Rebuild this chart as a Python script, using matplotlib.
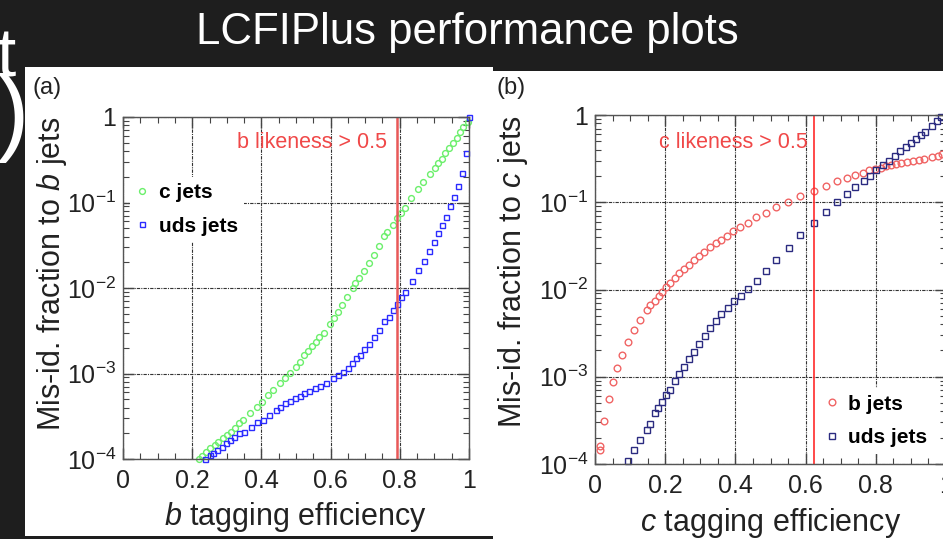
import matplotlib
matplotlib.use('Agg')
import matplotlib.pyplot as plt
from matplotlib.ticker import LogLocator, MultipleLocator, NullFormatter
from matplotlib.patches import Rectangle

plt.rcParams['font.family'] = ['Liberation Sans', 'DejaVu Sans']
plt.rcParams['mathtext.fontset'] = 'custom'
plt.rcParams['mathtext.rm'] = 'Liberation Sans'
plt.rcParams['mathtext.it'] = 'Liberation Sans:italic'
plt.rcParams['mathtext.bf'] = 'Liberation Sans:bold'
plt.rcParams['mathtext.default'] = 'regular'

# ---- (a) b tagging: mis-id fraction vs efficiency ----
a_c_eff = [0.996, 0.984, 0.974, 0.964, 0.953, 0.942, 0.931, 0.921, 0.911, 0.901,
           0.887, 0.868, 0.852, 0.832, 0.815, 0.803, 0.791, 0.779, 0.764, 0.753,
           0.740, 0.724, 0.711, 0.697, 0.683, 0.671, 0.665, 0.647, 0.634, 0.620,
           0.609, 0.598, 0.581, 0.567, 0.558, 0.547, 0.536, 0.524, 0.512, 0.499,
           0.483, 0.468, 0.455, 0.434, 0.420, 0.401, 0.386, 0.367, 0.348, 0.336,
           0.324, 0.312, 0.300, 0.290, 0.276, 0.266, 0.251, 0.240, 0.227, 0.221]
a_c_mis = [0.875, 0.771, 0.662, 0.573, 0.501, 0.431, 0.376, 0.323, 0.287, 0.251,
           0.215, 0.175, 0.143, 0.112, 0.0871, 0.0746, 0.0653, 0.0546, 0.0456, 0.0406,
           0.0310, 0.0243, 0.0194, 0.0158, 0.0130, 0.0114, 0.00991, 0.00778, 0.00632, 0.00519,
           0.00442, 0.00376, 0.00295, 0.00265, 0.00236, 0.00210, 0.00185, 0.00164, 0.00137, 0.00120,
           0.00102, 8.77e-4, 7.67e-4, 6.41e-4, 5.61e-4, 4.69e-4, 4.09e-4, 3.42e-4, 2.86e-4, 2.61e-4,
           2.29e-4, 2.09e-4, 1.91e-4, 1.75e-4, 1.60e-4, 1.46e-4, 1.33e-4, 1.22e-4, 1.08e-4, 1.00e-4]

a_uds_eff = [1.0, 0.990, 0.979, 0.969, 0.957, 0.945, 0.934, 0.922, 0.910, 0.899,
             0.885, 0.869, 0.854, 0.835, 0.816, 0.804, 0.793, 0.779, 0.768, 0.755,
             0.741, 0.725, 0.712, 0.697, 0.685, 0.673, 0.663, 0.649, 0.635, 0.622,
             0.608, 0.586, 0.570, 0.555, 0.539, 0.523, 0.511, 0.496, 0.484, 0.469,
             0.455, 0.441, 0.422, 0.405, 0.386, 0.369, 0.350, 0.336, 0.322, 0.309,
             0.298, 0.285, 0.273, 0.261, 0.250, 0.237]
a_uds_mis = [1.0, 0.376, 0.223, 0.157, 0.116, 0.0902, 0.0671, 0.0541, 0.0440, 0.0345,
             0.0271, 0.0207, 0.0163, 0.0121, 0.00897, 0.00778, 0.00650, 0.00553, 0.00462, 0.00407,
             0.00320, 0.00265, 0.00221, 0.00192, 0.00164, 0.00152, 0.00132, 0.00117, 0.00105, 9.59e-4,
             8.77e-4, 7.82e-4, 7.21e-4, 6.70e-4, 6.30e-4, 5.86e-4, 5.46e-4, 5.13e-4, 4.76e-4, 4.48e-4,
             4.02e-4, 3.74e-4, 3.27e-4, 2.86e-4, 2.69e-4, 2.39e-4, 2.05e-4, 2.00e-4, 1.82e-4, 1.67e-4,
             1.52e-4, 1.39e-4, 1.27e-4, 1.19e-4, 1.11e-4, 1.00e-4]

# ---- (b) c tagging ----
b_b_eff = [0.014, 0.015, 0.026, 0.040, 0.050, 0.064, 0.077, 0.094, 0.111, 0.129,
           0.148, 0.158, 0.170, 0.181, 0.192, 0.202, 0.213, 0.227, 0.240, 0.254,
           0.267, 0.282, 0.297, 0.311, 0.327, 0.344, 0.360, 0.376, 0.393, 0.414,
           0.436, 0.460, 0.486, 0.517, 0.550, 0.585, 0.623, 0.659, 0.690, 0.718,
           0.742, 0.763, 0.782, 0.799, 0.815, 0.829, 0.844, 0.858, 0.873, 0.889,
           0.905, 0.922, 0.938, 0.959, 0.976, 0.989]
b_b_mis = [1.45e-4, 1.6e-4, 3.13e-4, 5.60e-4, 8.61e-4, 1.26e-3, 1.79e-3, 2.47e-3, 3.40e-3, 4.42e-3,
           5.85e-3, 6.67e-3, 7.48e-3, 8.45e-3, 9.48e-3, 0.0106, 0.0120, 0.0136, 0.0154, 0.0173,
           0.0191, 0.0215, 0.0243, 0.0270, 0.0303, 0.0337, 0.0374, 0.0415, 0.0470, 0.0522,
           0.0579, 0.0673, 0.0762, 0.0891, 0.100, 0.117, 0.136, 0.155, 0.173, 0.190,
           0.204, 0.219, 0.232, 0.241, 0.249, 0.258, 0.265, 0.275, 0.284, 0.290,
           0.297, 0.305, 0.313, 0.327, 0.340, 0.357]

b_uds_eff = [0.095, 0.111, 0.129, 0.148, 0.156, 0.170, 0.179, 0.191, 0.202, 0.213,
             0.227, 0.240, 0.254, 0.267, 0.282, 0.297, 0.313, 0.329, 0.344, 0.360,
             0.378, 0.395, 0.415, 0.436, 0.462, 0.488, 0.517, 0.552, 0.585, 0.624,
             0.657, 0.690, 0.718, 0.742, 0.765, 0.784, 0.801, 0.820, 0.837, 0.854,
             0.870, 0.886, 0.901, 0.915, 0.929, 0.941, 0.960, 0.973, 0.986]
b_uds_mis = [1.09e-4, 1.46e-4, 1.87e-4, 2.47e-4, 2.90e-4, 3.84e-4, 4.38e-4, 5.08e-4, 6.11e-4, 7.10e-4,
             8.85e-4, 1.07e-3, 1.29e-3, 1.59e-3, 1.91e-3, 2.37e-3, 2.94e-3, 3.61e-3, 4.38e-3, 5.18e-3,
             6.17e-3, 7.35e-3, 8.45e-3, 0.0101, 0.0124, 0.0164, 0.0217, 0.0300, 0.0419, 0.0575,
             0.0782, 0.100, 0.124, 0.149, 0.175, 0.202, 0.232, 0.265, 0.294, 0.340,
             0.387, 0.431, 0.482, 0.531, 0.596, 0.644, 0.748, 0.861, 0.957]

xticks = [0, 0.2, 0.4, 0.6, 0.8, 1]
xticklabels = ['0', '0.2', '0.4', '0.6', '0.8', '1']
yticks = [1e-4, 1e-3, 1e-2, 1e-1, 1]
yticklabels = ['10$^{-4}$', '10$^{-3}$', '10$^{-2}$', '10$^{-1}$', '1']

W, H = 943, 539
fig = plt.figure(figsize=(W / 100, H / 100), dpi=100, facecolor='#1e1e1e')


def box(x0, y0, x1, y1):
    # pixel box (top-left origin) -> figure fraction rect
    return [x0 / W, 1 - y1 / H, (x1 - x0) / W, (y1 - y0) / H]


# white slide panels
for r in [box(25, 67, 493, 536), box(493, 71, 950, 545)]:
    fig.add_artist(Rectangle((r[0], r[1]), r[2], r[3], transform=fig.transFigure,
                             facecolor='white', edgecolor='none', zorder=-1))

fig.text(467 / W, 1 - 44 / H, 'LCFIPlus performance plots', color='white',
         fontsize=31.5, ha='center', va='baseline')
# bits of slide text cut off at the left edge
fig.text(16 / W, 1 - 77 / H, 't', color='white', fontsize=50, ha='right', va='baseline')
fig.text(29 / W, 1 - 143 / H, ')', color='white', fontsize=70, ha='right', va='baseline')

fig.text(32 / W, 1 - 88 / H, '(a)', fontsize=17, color='#222', ha='left', va='center')
fig.text(497 / W, 1 - 88 / H, '(b)', fontsize=17, color='#222', ha='left', va='center')


def style(ax):
    ax.set_yscale('log')
    ax.set_xlim(0, 1)
    ax.set_ylim(1e-4, 1)
    ax.set_xticks(xticks)
    ax.set_xticklabels(xticklabels)
    ax.xaxis.set_minor_locator(MultipleLocator(0.05))
    ax.set_yticks(yticks)
    ax.set_yticklabels(yticklabels)
    ax.yaxis.set_minor_locator(LogLocator(base=10, subs=range(2, 10), numticks=12))
    ax.yaxis.set_minor_formatter(NullFormatter())
    ax.tick_params(which='both', direction='in', top=True, right=True,
                   colors='#444', labelcolor='#222', labelsize=18)
    ax.tick_params(which='major', length=8, width=1)
    ax.tick_params(which='minor', length=4.5, width=0.8)
    ax.tick_params(axis='x', pad=7)
    ax.tick_params(axis='y', pad=5)
    ax.grid(True, which='major', color='#333', lw=0.8, ls=(0, (3, 1, 1, 1)))
    for s in ax.spines.values():
        s.set_color('#555')
        s.set_linewidth(1)


leg_kw = dict(prop={'weight': 'bold', 'size': 15}, frameon=True, facecolor='white',
              edgecolor='none', framealpha=1, fancybox=False, handlelength=0.6,
              handletextpad=0.5, borderpad=0.3, labelspacing=0.7, borderaxespad=0,
              numpoints=1)

axL = fig.add_axes(box(123, 117, 469, 459))
style(axL)
axL.plot(a_c_eff, a_c_mis, 'o', mfc='none', mec='#6bef6b', ms=4.2, mew=1, clip_on=False, label='c jets')
axL.plot(a_uds_eff, a_uds_mis, 's', mfc='none', mec='#2b2bff', ms=3.6, mew=1, clip_on=False, label='uds jets')
axL.axvline(0.791, color='#e85858', lw=1.8)
axL.text(0.763, 0.5, 'b likeness > 0.5', color='#f04848', fontsize=15.5, ha='right', va='center')
axL.set_xlabel('$\\mathit{b}$ tagging efficiency', fontsize=22, labelpad=5, color='#222')
axL.set_ylabel('Mis-id. fraction to $\\mathit{b}$ jets', fontsize=22, loc='top', labelpad=-2, color='#222')
axL.legend(loc='upper left', bbox_to_anchor=(0.02, 0.825), **leg_kw)

axR = fig.add_axes(box(595, 115, 946, 464))
style(axR)
axR.plot(b_b_eff, b_b_mis, 'o', mfc='none', mec='#f06464', ms=4.8, mew=1, clip_on=False, label='b jets')
axR.plot(b_uds_eff, b_uds_mis, 's', mfc='none', mec='#2b2b80', ms=4.0, mew=1, clip_on=False, label='uds jets')
axR.axvline(0.624, color='#ff2a2a', lw=1.2)
axR.text(0.606, 0.49, 'c likeness > 0.5', color='#f04848', fontsize=15.5, ha='right', va='center')
axR.set_xlabel('$\\mathit{c}$ tagging efficiency', fontsize=22, labelpad=6, color='#222')
axR.set_ylabel('Mis-id. fraction to $\\mathit{c}$ jets', fontsize=22, loc='top', labelpad=6, color='#222')
axR.legend(loc='lower right', bbox_to_anchor=(0.965, 0.03), **leg_kw)

fig.savefig('out.png', dpi=100, facecolor=fig.get_facecolor())
